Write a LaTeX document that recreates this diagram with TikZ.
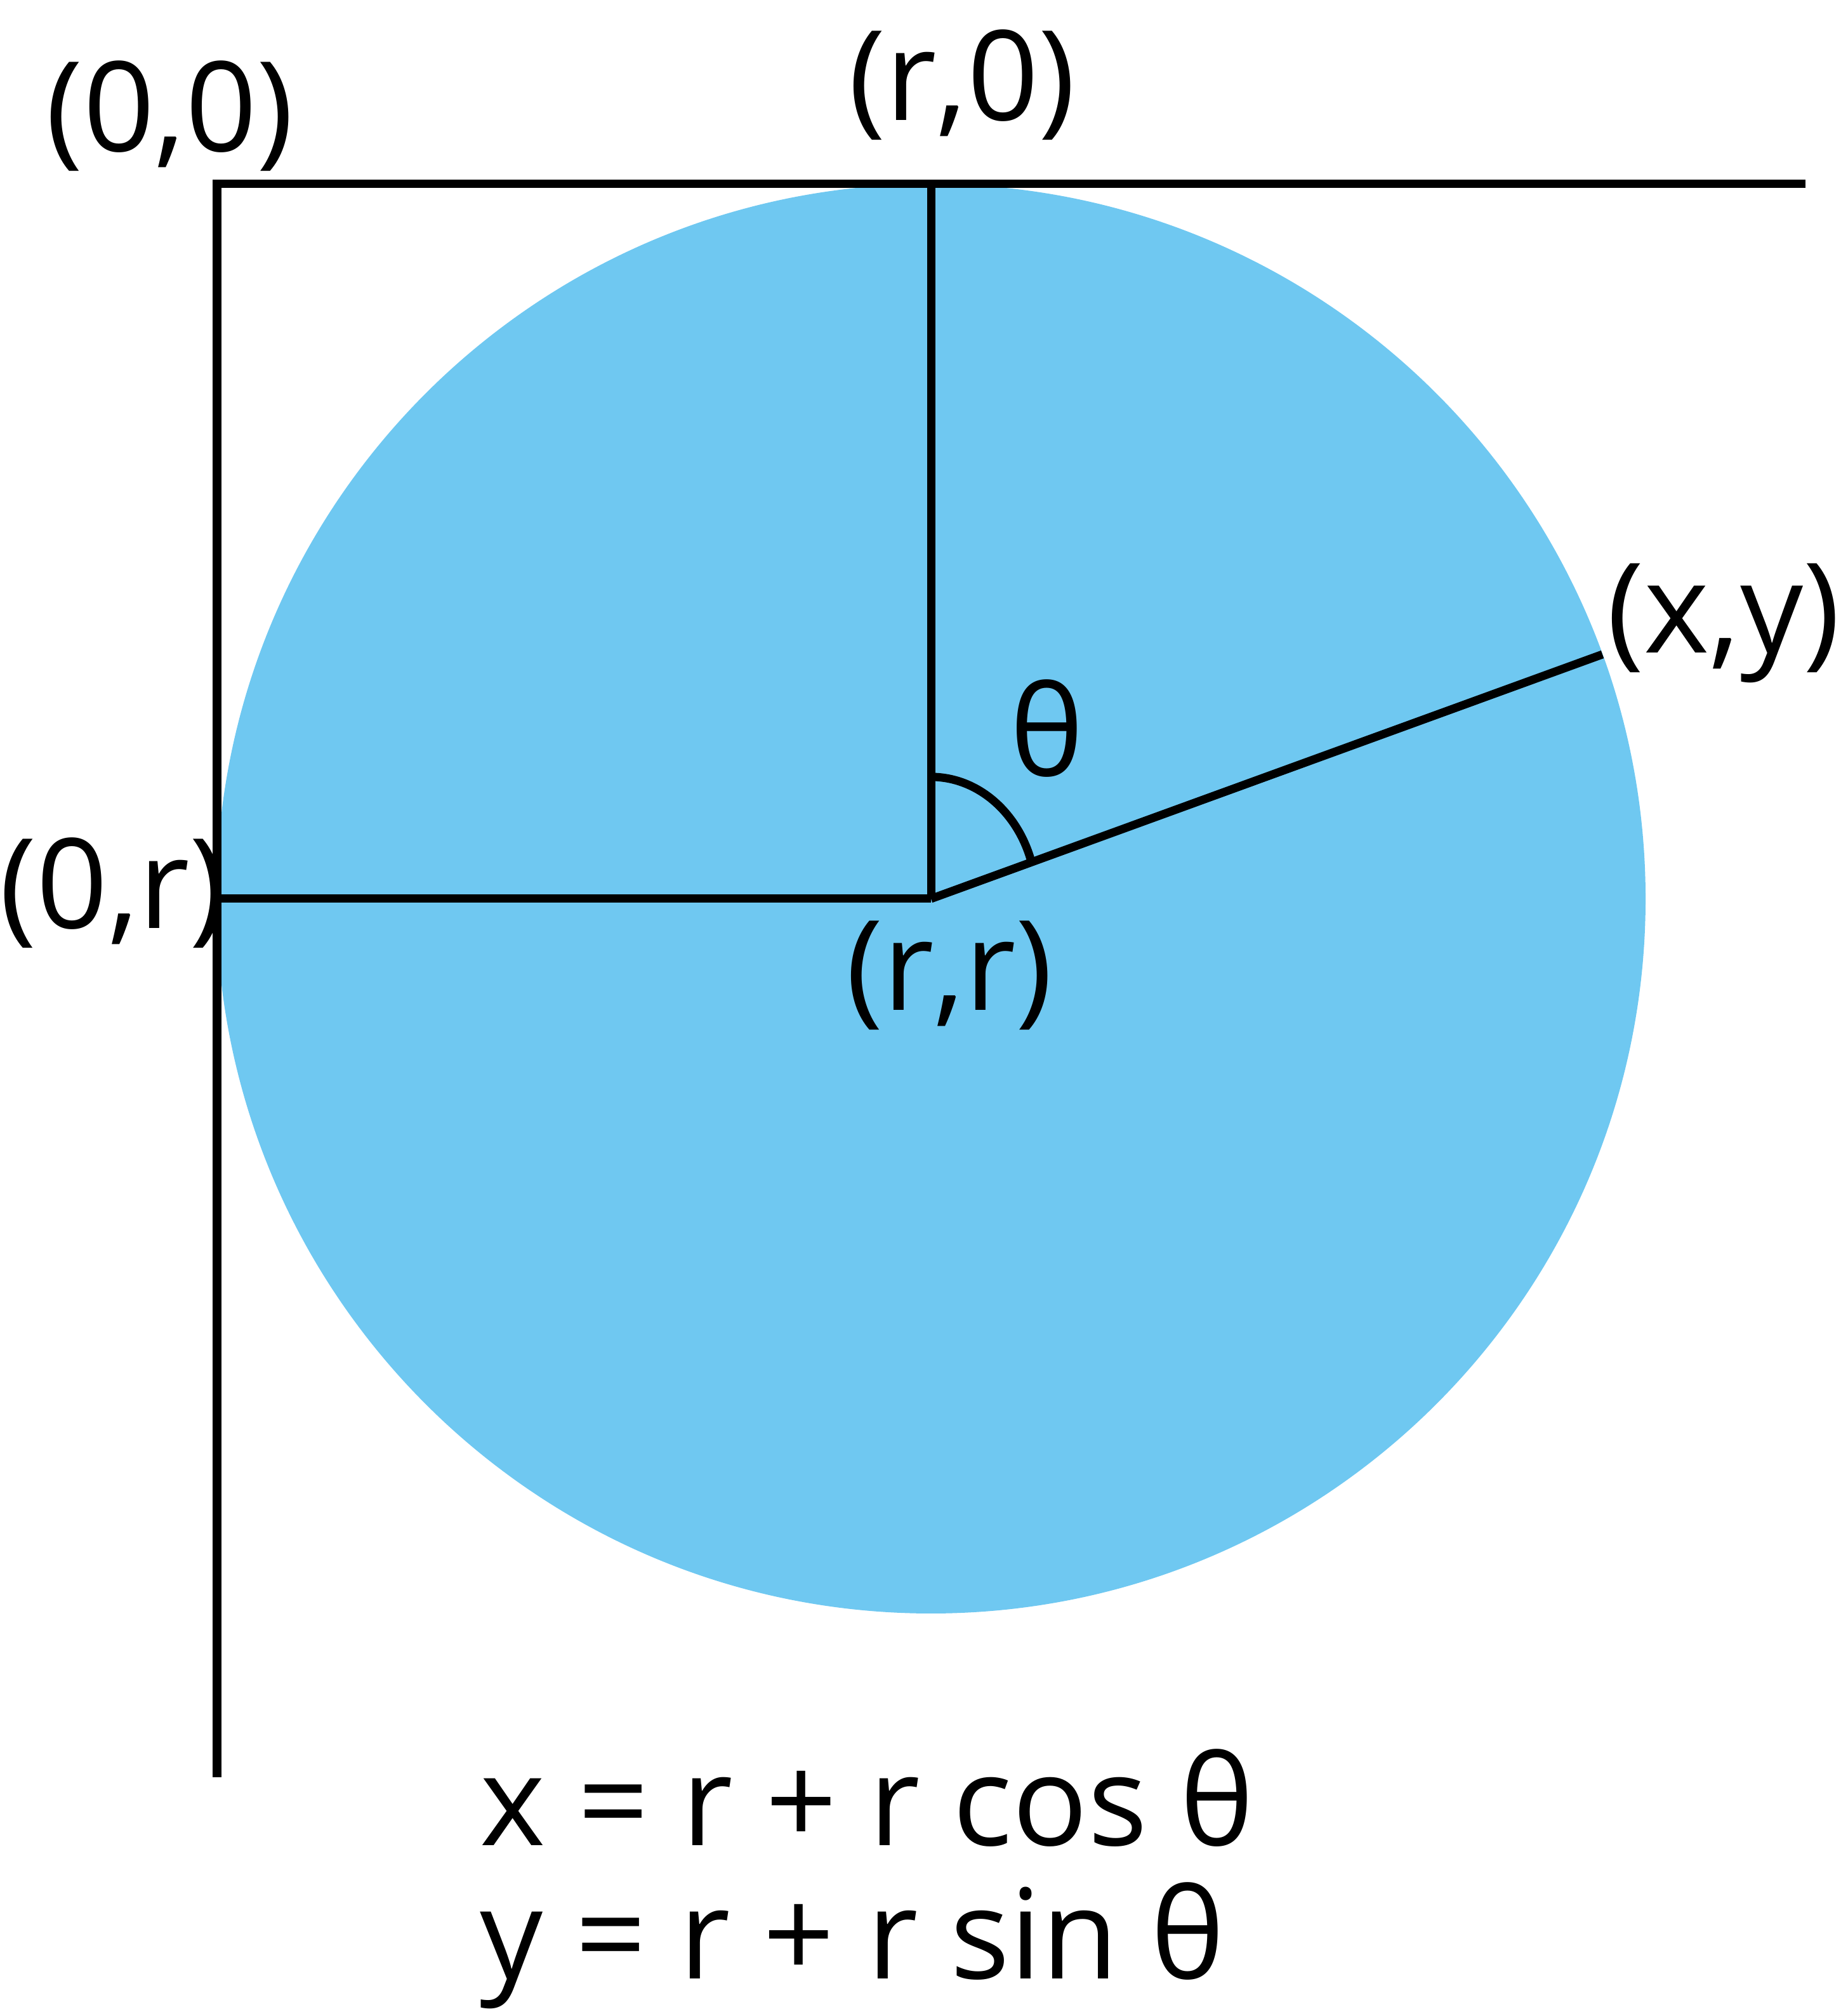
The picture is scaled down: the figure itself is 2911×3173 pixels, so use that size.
\documentclass[tikz,border=0pt]{standalone}
\usepackage{fontspec}
\setmainfont{Open Sans}
\usetikzlibrary{positioning}
\definecolor{discblue}{RGB}{111,200,241}

\begin{document}
\begin{tikzpicture}[x=0.01cm,y=0.01cm,line width=3.7pt,
	coordlabel/.style={anchor=base,inner sep=0pt,font=\fontsize{56}{68}\selectfont}]
	\useasboundingbox (0,0) rectangle (2911,3173);
	% points of the disc
	\coordinate (c) at (1467,1757);
	\coordinate (r0) at (1467,2883);
	\coordinate (or) at (342,1757);
	\coordinate (xy) at (2525,2142);
	\coordinate (oo) at (342,2883);
	\coordinate (topend) at (2845,2883);
	\coordinate (axisend) at (342,373);
	\coordinate (arcstart) at (1467,1949);
	\fill[discblue] (c) circle (1126);
	% axes
	\draw[line join=miter] (topend) -- (oo) -- (axisend);
	\draw (c) -- (r0);
	\draw (c) -- (or);
	\draw (c) -- (xy);
	\draw (arcstart) arc[start angle=90,end angle=19,x radius=166,y radius=192];
	% labels
	\node[coordlabel] (lo) at (268,2934) {(0,0)};
	\node[coordlabel] (lr0) at (1516,2983) {(r,0)};
	\node[coordlabel] (lxy) at (2716,2144) {(x,y)};
	\node[coordlabel] (lth) at (1650,1950) {θ};
	\node[coordlabel] (lor) at (178,1710) {(0,r)};
	\node[coordlabel] (lrr) at (1496,1581) {(r,r)};
	\node[coordlabel,anchor=base west] (eqx) at (750,265) {x = r + r cos θ};
	\node[coordlabel,anchor=base west] (eqy) at (750,55) {y = r + r sin θ};
\end{tikzpicture}
\end{document}
